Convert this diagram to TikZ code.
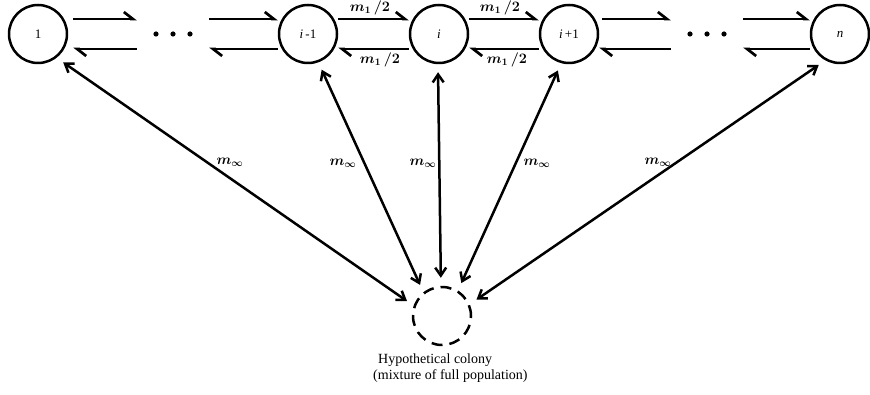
\documentclass[tikz,border=0pt]{standalone}
\usepackage{fontspec}
\setmainfont{Liberation Serif}
\usetikzlibrary{arrows.meta}

\tikzset{
    colony/.style = {circle, draw, line width=2.5pt, minimum size=58pt, inner sep=0pt,
                     font=\fontsize{13}{15}\selectfont},
    hypo/.style   = {colony, dash pattern=on 11pt off 7pt},
    dotsbox/.style= {minimum width=72pt, minimum height=2pt, inner sep=0pt},
    harp/.style   = {line width=2.7pt, -{Straight Barb[left, length=9pt, width=14pt]}},
    mig/.style    = {line width=2.5pt,
                     {Straight Barb[length=8pt, width=11pt]}-{Straight Barb[length=8pt, width=11pt]},
                     shorten <=8pt, shorten >=8pt},
    rate/.style   = {font=\fontsize{14}{16}\selectfont\boldmath, inner sep=0pt}
}

\begin{document}
\begin{tikzpicture}[x=1pt, y=-1pt, line join=round]
    \useasboundingbox (0,0) rectangle (870,395);

    % colonies along the chain
    \node[colony] (n1)     at (38,34)  {1};
    \node[colony] (iminus) at (308,34) {\textit{i}\,-1};
    \node[colony] (inode)  at (439,34) {\textit{i}};
    \node[colony] (iplus)  at (569,34) {\textit{i}\,+1};
    \node[colony] (nn)     at (840,34) {\textit{n}};

    \node[dotsbox] (dotsL) at (173,34) {};
    \node[dotsbox] (dotsR) at (707,34) {};
    \foreach \x in {-17,0,17} {
        \fill ([xshift=\x pt]dotsL.center) circle (2.6pt);
        \fill ([xshift=\x pt]dotsR.center) circle (2.6pt);
    }

    % hypothetical colony
    \node[hypo] (hypo) at (442,316) {};
    \node[anchor=north west, align=left, inner sep=0pt,
          font=\fontsize{14}{16}\selectfont] (caption) at (373,354)
        {\hspace{5pt}Hypothetical colony\\(mixture of full population)};

    % stepping stone migration
    \draw[harp, shorten <=5pt] ([yshift=15pt]n1.east) -- ([yshift=15pt]dotsL.west);
    \draw[harp, shorten >=5pt] ([yshift=-15pt]dotsL.west) -- ([yshift=-15pt]n1.east);
    \draw[harp] ([yshift=15pt]dotsL.east) -- ([yshift=15pt]iminus.west);
    \draw[harp] ([yshift=-15pt]iminus.west) -- ([yshift=-15pt]dotsL.east);

    \draw[harp] ([yshift=15pt]iminus.east) -- ([yshift=15pt]inode.west);
    \draw[harp] ([yshift=-15pt]inode.west) -- ([yshift=-15pt]iminus.east);
    \draw[harp] ([yshift=15pt]inode.east) -- ([yshift=15pt]iplus.west);
    \draw[harp] ([yshift=-15pt]iplus.west) -- ([yshift=-15pt]inode.east);

    \draw[harp, shorten <=3pt] ([yshift=15pt]iplus.east) -- ([yshift=15pt]dotsR.west);
    \draw[harp] ([yshift=-15pt]dotsR.west) -- ([yshift=-15pt]iplus.east);
    \draw[harp] ([yshift=15pt]dotsR.east) -- ([yshift=15pt]nn.west);
    \draw[harp] ([yshift=-15pt]nn.west) -- ([yshift=-15pt]dotsR.east);

    \node[rate] (r1) at (370,8)  {$m_1\,/2$};
    \node[rate] (r2) at (380,60) {$m_1\,/2$};
    \node[rate] (r3) at (500,8)  {$m_1\,/2$};
    \node[rate] (r4) at (507,60) {$m_1\,/2$};

    % migration with the hypothetical colony
    \draw[mig] (n1.-52)      -- (hypo.160);
    \draw[mig] (iminus.-70)  -- (hypo.128);
    \draw[mig] (inode.-92)   -- (hypo.92);
    \draw[mig] (iplus.-105)  -- (hypo.58);
    \draw[mig] (nn.-119)     -- (hypo.23);

    \node[rate] (s1) at (230,162) {$m_\infty$};
    \node[rate] (s2) at (343,163) {$m_\infty$};
    \node[rate] (s3) at (423,163) {$m_\infty$};
    \node[rate] (s4) at (537,163) {$m_\infty$};
    \node[rate] (s5) at (658,162) {$m_\infty$};
\end{tikzpicture}
\end{document}
